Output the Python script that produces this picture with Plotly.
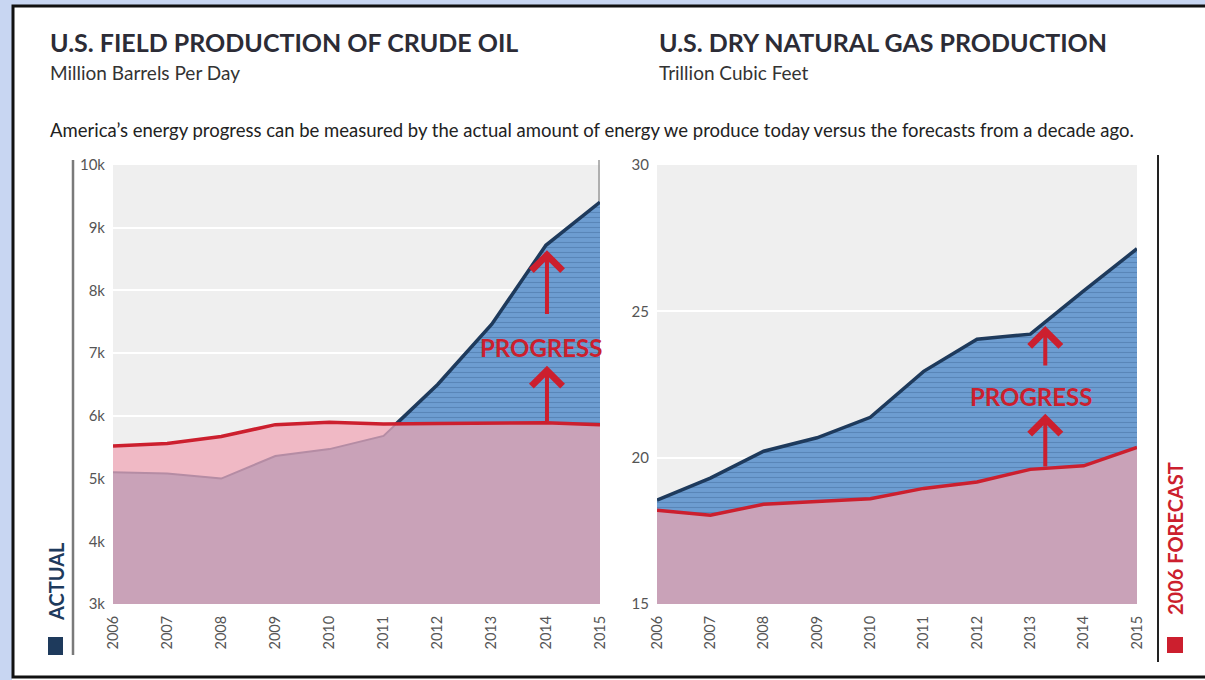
import plotly.graph_objects as go

W, H = 1205, 680

years = list(range(2006, 2016))
oil_actual = [5100, 5080, 5000, 5360, 5470, 5680, 6500, 7460, 8720, 9410]
oil_forecast = [5520, 5560, 5670, 5860, 5900, 5870, 5880, 5890, 5890, 5860]
gas_actual = [18.55, 19.3, 20.22, 20.68, 21.38, 22.95, 24.05, 24.22, 25.7, 27.14]
gas_forecast = [18.2, 18.03, 18.41, 18.5, 18.6, 18.95, 19.17, 19.6, 19.72, 20.35]

oil_ticks = [3000, 4000, 5000, 6000, 7000, 8000, 9000, 10000]
oil_ticktext = ["3k", "4k", "5k", "6k", "7k", "8k", "9k", "10k"]
gas_ticks = [15, 20, 25, 30]

NAVY = "#1e3a5c"
RED = "#cc1f2e"
MAUVE = "#c9a2b8"
PINK = "#f0b9c5"
FONT = "Lato"


def px(x):
    return x / W


def py(y):
    return 1 - y / H


def with_crossings(x, a, f):
    """insert the points where actual and forecast cross"""
    xs, aa, ff = [], [], []
    for i in range(len(x)):
        xs.append(x[i]); aa.append(a[i]); ff.append(f[i])
        if i + 1 < len(x):
            d0, d1 = a[i] - f[i], a[i + 1] - f[i + 1]
            if d0 * d1 < 0:
                t = d0 / (d0 - d1)
                yc = a[i] + t * (a[i + 1] - a[i])
                xs.append(x[i] + t * (x[i + 1] - x[i])); aa.append(yc); ff.append(yc)
    return xs, aa, ff


fig = go.Figure()


def add_panel(actual, forecast, xa, ya):
    xs, aa, ff = with_crossings(years, actual, forecast)
    upper = [max(p, q) for p, q in zip(aa, ff)]
    lower = [min(p, q) for p, q in zip(aa, ff)]
    # blue "progress" area
    fig.add_trace(go.Scatter(
        x=xs, y=upper, mode="lines", line=dict(width=0), fill="tozeroy",
        fillcolor="#6d9dd1",
        fillpattern=dict(shape="-", size=5, solidity=0.22, fgcolor="#46709f", bgcolor="#6d9dd1"),
        xaxis=xa, yaxis=ya, showlegend=False, hoverinfo="skip"))
    # forecast above actual
    fig.add_trace(go.Scatter(
        x=xs, y=ff, mode="lines", line=dict(width=0), fill="tozeroy", fillcolor=PINK,
        xaxis=xa, yaxis=ya, showlegend=False, hoverinfo="skip"))
    fig.add_trace(go.Scatter(
        x=xs, y=lower, mode="lines", line=dict(width=0), fill="tozeroy", fillcolor=MAUVE,
        xaxis=xa, yaxis=ya, showlegend=False, hoverinfo="skip"))
    # actual line: faint where below forecast, navy where above
    fig.add_trace(go.Scatter(
        x=xs, y=[p if p <= q + 1e-9 else None for p, q in zip(aa, ff)], mode="lines",
        line=dict(color="#b58ca4", width=2), connectgaps=False,
        xaxis=xa, yaxis=ya, showlegend=False))
    fig.add_trace(go.Scatter(
        x=xs, y=[p if p >= q - 1e-9 else None for p, q in zip(aa, ff)], mode="lines",
        line=dict(color=NAVY, width=3.5), connectgaps=False,
        xaxis=xa, yaxis=ya, showlegend=False))
    fig.add_trace(go.Scatter(
        x=years, y=forecast, mode="lines", line=dict(color=RED, width=3.5),
        xaxis=xa, yaxis=ya, showlegend=False))


add_panel(oil_actual, oil_forecast, "x", "y")
add_panel(gas_actual, gas_forecast, "x2", "y2")

xaxis_style = dict(
    range=[2006, 2015], tickvals=years, tickangle=-90, showgrid=False, zeroline=False,
    showline=False, ticks="", ticklabelstandoff=8, automargin=False,
    tickfont=dict(family=FONT, size=14.5, color="#555555"),
)
yaxis_style = dict(
    showgrid=True, gridcolor="white", gridwidth=2, zeroline=False, showline=False,
    ticks="", ticklabelstandoff=7, automargin=False,
    tickfont=dict(family=FONT, size=15, color="#555555"),
)

fig.update_layout(
    width=W, height=H,
    margin=dict(l=0, r=0, t=0, b=0, autoexpand=False),
    paper_bgcolor="white",
    plot_bgcolor="#efefef",
    showlegend=False,
    font=dict(family=FONT, color="#333333"),
    xaxis=dict(domain=[px(113), px(600)], anchor="y", **xaxis_style),
    yaxis=dict(domain=[py(604), py(165)], anchor="x", range=[3000, 10000],
               tickvals=oil_ticks, ticktext=oil_ticktext, **yaxis_style),
    xaxis2=dict(domain=[px(657), px(1137)], anchor="y2", **xaxis_style),
    yaxis2=dict(domain=[py(604), py(165)], anchor="x2", range=[15, 30],
                tickvals=gas_ticks, **yaxis_style),
)

# frame
shapes = [
    dict(type="rect", xref="paper", yref="paper", x0=0, x1=px(12), y0=0, y1=1,
         fillcolor="#c8d6f2", line=dict(width=0)),
    dict(type="rect", xref="paper", yref="paper", x0=0, x1=1, y0=py(5), y1=1,
         fillcolor="#c8d6f2", line=dict(width=0)),
    dict(type="rect", xref="paper", yref="paper", x0=px(13), x1=px(1215), y0=py(677), y1=py(6),
         fillcolor="rgba(0,0,0,0)", line=dict(color="#111111", width=3)),
    # small rule at the top right of the oil panel
    dict(type="line", xref="paper", yref="paper", x0=px(599), x1=px(599), y0=py(160), y1=py(201),
         line=dict(color="#9a9a9a", width=1.5)),
    # side legend rules and swatches
    dict(type="line", xref="paper", yref="paper", x0=px(73), x1=px(73), y0=py(160), y1=py(655),
         line=dict(color="#7a7a7a", width=2.5)),
    dict(type="rect", xref="paper", yref="paper", x0=px(48), x1=px(63), y0=py(655), y1=py(637),
         fillcolor=NAVY, line=dict(width=0)),
    dict(type="line", xref="paper", yref="paper", x0=px(1158), x1=px(1158), y0=py(155), y1=py(662),
         line=dict(color="#222222", width=2)),
    dict(type="rect", xref="paper", yref="paper", x0=px(1167), x1=px(1183), y0=py(653), y1=py(637),
         fillcolor=RED, line=dict(width=0)),
]
fig.update_layout(shapes=shapes)

annotations = [
    dict(x=px(48), y=py(42), text="<b>U.S. FIELD PRODUCTION OF CRUDE OIL</b>",
         font=dict(size=25, color="#2c2c36")),
    dict(x=px(48), y=py(73), text="Million Barrels Per Day", font=dict(size=19, color="#333333")),
    dict(x=px(657), y=py(42), text="<b>U.S. DRY NATURAL GAS PRODUCTION</b>",
         font=dict(size=25, color="#2c2c36")),
    dict(x=px(657), y=py(73), text="Trillion Cubic Feet", font=dict(size=19, color="#333333")),
    dict(x=px(48), y=py(130),
         text="America\u2019s energy progress can be measured by the actual amount of energy "
              "we produce today versus the forecasts from a decade ago.",
         font=dict(size=18.5, color="#222222")),
]
for a in annotations:
    a.update(xref="paper", yref="paper", xanchor="left", yanchor="middle", showarrow=False)

annotations += [
    dict(x=px(56), y=py(582), text="<b>ACTUAL</b>", font=dict(size=20, color=NAVY)),
    dict(x=px(1175), y=py(539), text="<b>2006 FORECAST</b>", font=dict(size=20, color=RED)),
]
for a in annotations[-2:]:
    a.update(xref="paper", yref="paper", xanchor="center", yanchor="middle",
             textangle=-90, showarrow=False)

annotations += [
    dict(x=2013.91, y=7090, xref="x", yref="y", text="<b>PROGRESS</b>", showarrow=False,
         font=dict(size=24, color=RED)),
    dict(x=2013.01, y=22.1, xref="x2", yref="y2", text="<b>PROGRESS</b>", showarrow=False,
         font=dict(size=24, color=RED)),
]

arrows = [
    ("x", "y", 2014.02, 5890, 6800),
    ("x", "y", 2014.02, 7600, 8640),
    ("x2", "y2", 2013.28, 19.65, 21.5),
    ("x2", "y2", 2013.28, 23.1, 24.5),
]
for xa, ya, xv, y0, y1 in arrows:
    annotations.append(dict(
        x=xv, y=y1, ax=xv, ay=y0, xref=xa, yref=ya, axref=xa, ayref=ya, text="",
        showarrow=True, arrowhead=4, arrowsize=1.5, arrowwidth=4, arrowcolor=RED))

fig.update_layout(annotations=annotations)

fig.write_html("out.html", config={"displayModeBar": False},
               post_script="document.body.style.margin='0';")
